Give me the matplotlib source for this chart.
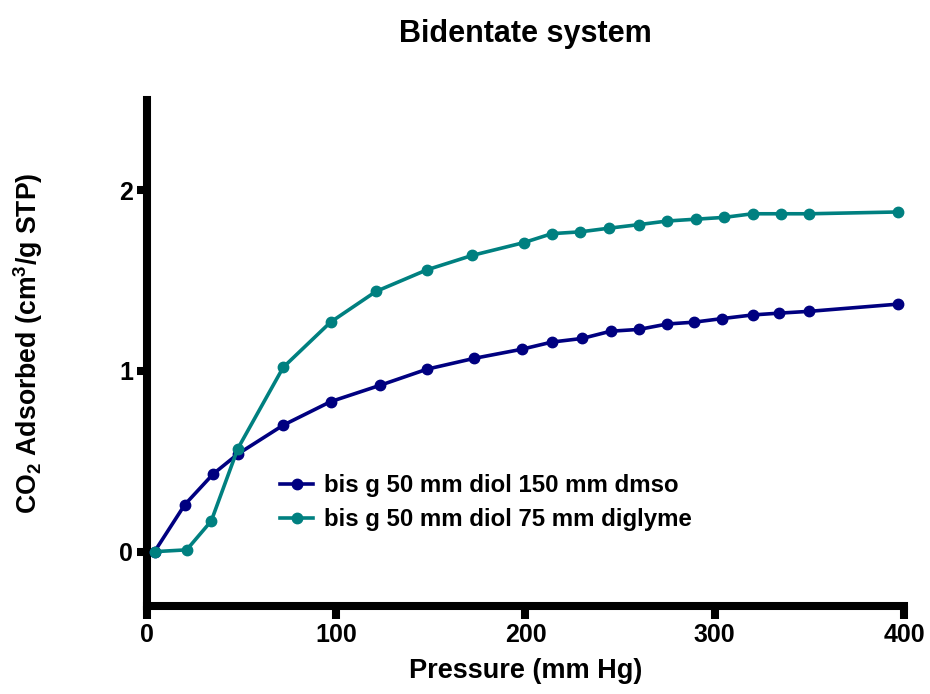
import matplotlib
matplotlib.use('Agg')
import matplotlib.pyplot as plt

plt.rcParams['font.family'] = ['Liberation Sans', 'DejaVu Sans']
plt.rcParams['font.weight'] = 'bold'
plt.rcParams['mathtext.fontset'] = 'custom'
plt.rcParams['mathtext.rm'] = 'Liberation Sans:bold'
plt.rcParams['mathtext.bf'] = 'Liberation Sans:bold'

# Pressure (mm Hg)
pressure_dmso = [4, 20, 35, 48, 72, 97, 123, 148, 173, 198, 214, 230, 245, 260,
                 275, 289, 304, 320, 334, 350, 397]
co2_dmso = [0.0, 0.26, 0.43, 0.54, 0.70, 0.83, 0.92, 1.01, 1.07, 1.12, 1.16, 1.18,
            1.22, 1.23, 1.26, 1.27, 1.29, 1.31, 1.32, 1.33, 1.37]

pressure_diglyme = [4, 21, 34, 48, 72, 97, 121, 148, 172, 199, 214, 229, 244, 260,
                    275, 290, 305, 320, 335, 350, 397]
co2_diglyme = [0.0, 0.01, 0.17, 0.57, 1.02, 1.27, 1.44, 1.56, 1.64, 1.71, 1.76, 1.77,
               1.79, 1.81, 1.83, 1.84, 1.85, 1.87, 1.87, 1.87, 1.88]

labels = ['bis g 50 mm diol 150 mm dmso', 'bis g 50 mm diol 75 mm diglyme']

fig = plt.figure(figsize=(9.3, 6.94), dpi=100)
ax = fig.add_axes([0.158, 0.127, 0.814, 0.729])

ax.plot(pressure_dmso, co2_dmso, color='#000080', lw=2.6, marker='o', ms=7.5,
        label=labels[0], clip_on=False, zorder=3)
ax.plot(pressure_diglyme, co2_diglyme, color='#008080', lw=2.6, marker='o', ms=7.5,
        label=labels[1], clip_on=False, zorder=3)

ax.set_xlim(0, 400)
ax.set_ylim(-0.3, 2.5)
ax.set_xticks([0, 100, 200, 300, 400])
ax.set_yticks([0, 1, 2])

for side in ['top', 'right']:
    ax.spines[side].set_visible(False)
for side in ['left', 'bottom']:
    ax.spines[side].set_linewidth(5.8)
ax.tick_params(axis='both', width=5.8, labelsize=18)
ax.tick_params(axis='x', length=9, pad=3)
ax.tick_params(axis='y', length=7, pad=3)

ax.set_xlabel('Pressure (mm Hg)', fontsize=19.5, fontweight='bold', labelpad=8)
ax.set_ylabel(r'CO$_{2}$ Adsorbed (cm$^{3}$/g STP)', fontsize=19.2,
              fontweight='bold', labelpad=53)
ax.yaxis.label.set_y(0.52)
ax.set_title('Bidentate system', fontsize=22, fontweight='bold', pad=42)

ax.legend(loc='center left', bbox_to_anchor=(0.147, 0.204), frameon=False,
          fontsize=17.3, handlelength=1.4, handletextpad=0.45, labelspacing=0.45)

fig.savefig('out.png', dpi=100)
